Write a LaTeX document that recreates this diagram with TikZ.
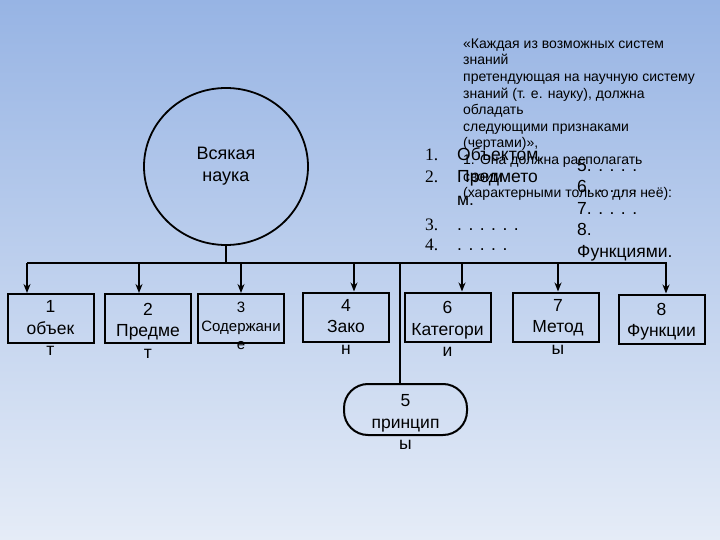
\documentclass[tikz,border=0pt]{standalone}
\usepackage{fontspec}
\setmainfont{Liberation Sans}
\newfontfamily\numfont{Liberation Serif}
\usetikzlibrary{arrows.meta,shapes.geometric}
\definecolor{skytop}{RGB}{151,180,228}
\definecolor{skybot}{RGB}{229,236,247}
\begin{document}
\begin{tikzpicture}[x=1pt,y=-1pt,
    box/.style={draw,line width=2pt,minimum width=86pt,minimum height=49pt,inner sep=0pt},
    boxtext/.style={anchor=north,inner sep=0pt,align=center,font=\fontsize{17.5}{21.5}\selectfont},
    listtext/.style={inner sep=0pt,align=left,font=\fontsize{17.5}{23}\selectfont},
    link/.style={line width=1.6pt},
    arr/.style={link,-{Stealth[length=9pt,width=7pt]}}]
  \shade[top color=skytop,bottom color=skybot] (0,0) rectangle (720,540);
  % circle and the bus
  \node[draw,ellipse,line width=1.8pt,minimum width=164pt,minimum height=157pt,
        align=center,font=\fontsize{18}{22}\selectfont] (nauka) at (226,166.5) {Всякая\\наука};
  \coordinate (busL) at (27,263);
  \coordinate (busR) at (667,263);
  \draw[link] (busL) -- (busR);
  \draw[link] (nauka.south) -- (nauka.south |- busL);
  % boxes
  \node[box] (b1) at (50.5,318.5) {};
  \node[box] (b2) at (148,318.5) {};
  \node[box] (b3) at (241,318.5) {};
  \node[box] (b4) at (346,317) {};
  \node[box] (b6) at (447.5,317) {};
  \node[box] (b7) at (555.5,317) {};
  \node[box] (b8) at (661.5,319) {};
  \node[box,rounded corners=24pt,minimum width=123pt,minimum height=51pt] (b5) at (405.5,409.5) {};
  \node[boxtext] (t1) at (50.5,300.5) {1\\объек\\т};
  \node[boxtext] (t2) at (148,303) {2\\Предме\\т};
  \node[boxtext,font=\fontsize{15}{18.5}\selectfont] (t3) at (241,302.3) {3\\Содержани\\е};
  \node[boxtext] (t4) at (346,299) {4\\Зако\\н};
  \node[boxtext] (t6) at (447.5,301.5) {6\\Категори\\и};
  \node[boxtext] (t7) at (558,299) {7\\Метод\\ы};
  \node[boxtext] (t8) at (661.5,303) {8\\Функции};
  \node[boxtext] (t5) at (405.5,394.5) {5\\принцип\\ы};
  % arrows
  \foreach \n/\ax in {1/27,2/139,3/241,4/354,6/462,7/558,8/666} {
    \coordinate (a\n) at (\ax,263);
    \draw[arr] (a\n) -- (a\n |- b\n.north);
  }
  \coordinate (j5) at (400,263);
  \draw[link] (j5) -- (j5 |- b5.north);
  % texts on the right
  \node[anchor=north west,inner sep=0pt,align=left,font=\fontsize{14}{16.6}\selectfont] (quote) at (463,38.5)
    {«Каждая из возможных систем\\знаний\\претендующая на научную систему\\знаний (т. е. науку), должна\\обладать\\следующими признаками\\(чертами)»,\\1. Она должна располагать\\своим\\(характерными только для неё):};
  \node[listtext,anchor=base west,font=\numfont\fontsize{17.5}{23}\selectfont] (n1) at (425,160.5) {1.};
  \node[listtext,anchor=base west,font=\numfont\fontsize{17.5}{23}\selectfont] (n2) at (425,183) {2.};
  \node[listtext,anchor=base west,font=\numfont\fontsize{17.5}{23}\selectfont] (n3) at (425,230) {3.};
  \node[listtext,anchor=base west,font=\numfont\fontsize{17.5}{23}\selectfont] (n4) at (425,251) {4.};
  \node[listtext,anchor=base west] (i1) at (457,160.5) {Объектом.};
  \node[listtext,anchor=north west] (i2) at (457,170.5) {Предмето\\м.};
  \node[listtext,anchor=base west] (i3) at (457,230) {. . . . . .};
  \node[listtext,anchor=base west] (i4) at (457,251) {. . . . .};
  \node[listtext,anchor=north west,font=\fontsize{17.5}{21.5}\selectfont] (i5) at (577,159)
    {5. . . . .\\6. . . . .\\7. . . . .\\8.\\Функциями.};
\end{tikzpicture}
\end{document}
